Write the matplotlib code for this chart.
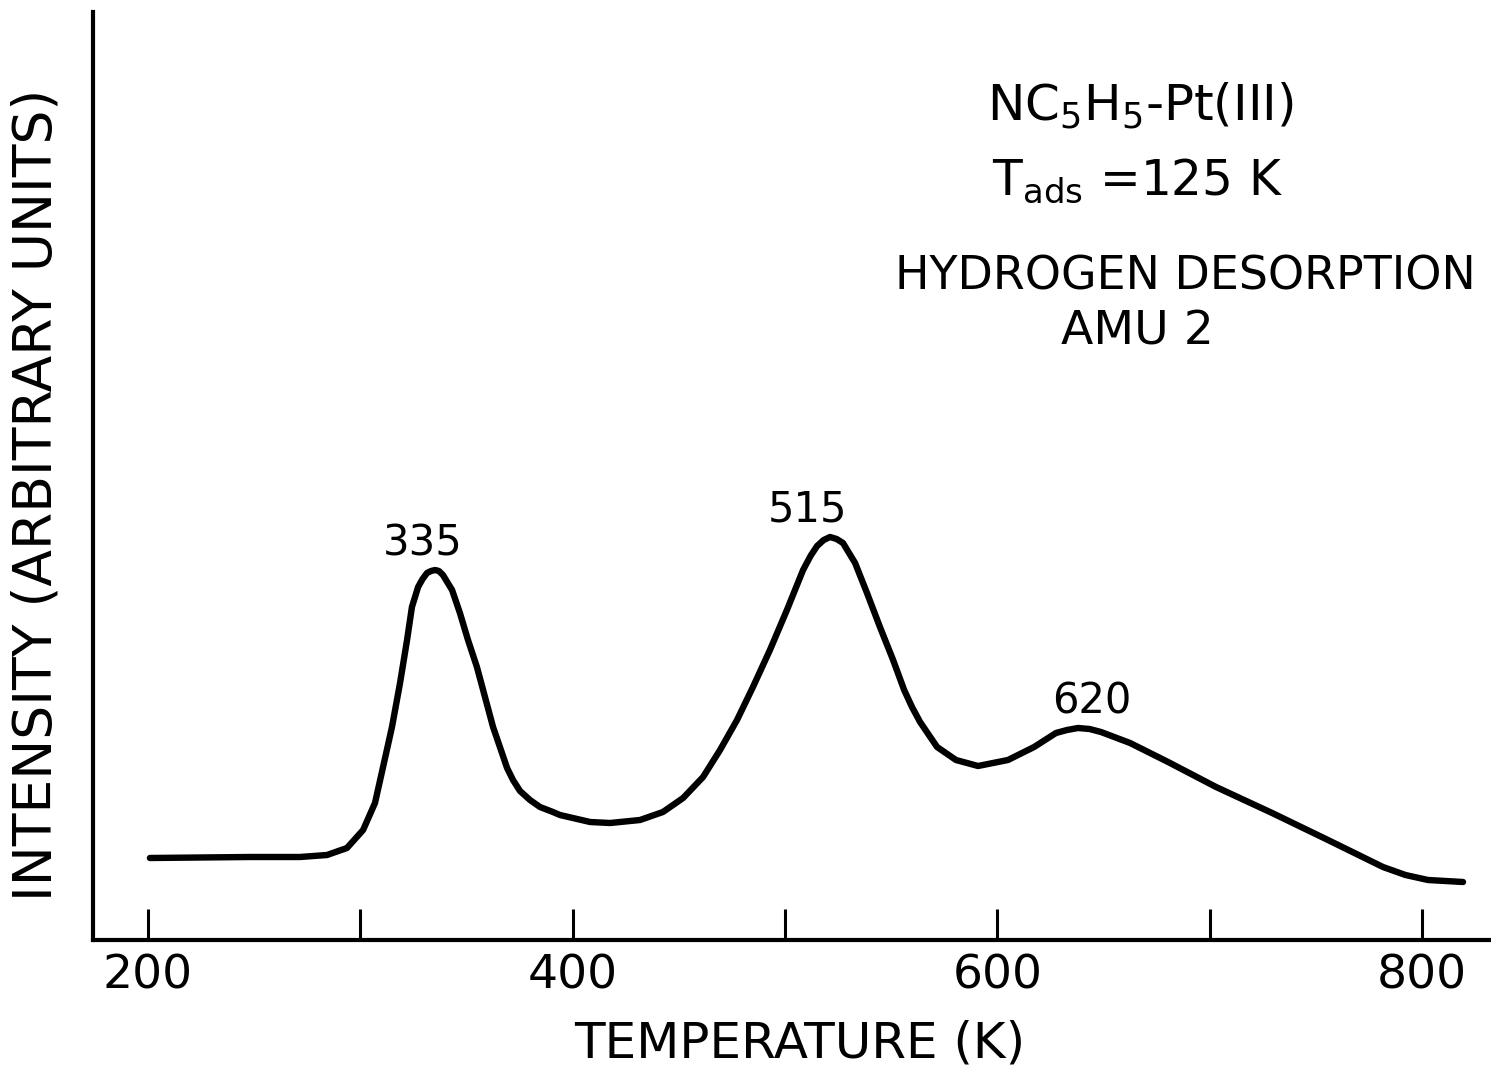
import matplotlib
matplotlib.use("Agg")
import matplotlib.pyplot as plt

# temperature (K) and intensity (arbitrary units)
temperatur = [200.9, 248.0, 271.6, 284.3, 293.7, 301.3, 306.9, 310.7, 314.9, 318.7,
              322.0, 324.3, 327.2, 329.3, 331.4, 333.3, 335.2, 337.0, 338.9, 343.2,
              346.9, 350.7, 354.9, 358.7, 362.5, 366.7, 369.1, 371.9, 375.2, 379.9,
              384.6, 390.7, 394.0, 408.2, 417.6, 431.7, 442.5, 452.0, 461.4, 469.4,
              477.4, 484.9, 492.9, 500.9, 508.5, 512.0, 515.1, 518.2, 521.2, 524.3,
              527.3, 533.0, 538.6, 544.7, 550.9, 556.1, 559.8, 563.6, 571.6, 580.5,
              590.9, 605.0, 617.3, 627.6, 632.8, 638.0, 643.4, 648.8, 662.5, 680.4,
              703.0, 729.4, 755.7, 781.6, 792.2, 802.8, 819.3]
intensitet = [82, 83, 83, 85, 92, 110, 137, 173, 213, 257,
              300, 333, 353, 361, 367, 369, 370, 369, 365, 350,
              327, 300, 273, 243, 213, 187, 172, 160, 149, 140,
              133, 128, 125, 118, 117, 120, 128, 142, 163, 190,
              220, 253, 290, 330, 370, 384, 394, 400, 403, 401,
              397, 377, 347, 313, 280, 250, 233, 218, 193, 180,
              174, 180, 193, 207, 210, 212, 211, 208, 197, 178,
              153, 127, 100, 73, 65, 60, 58]

# peak labels: text, x position, baseline height
topp_tekst = ["335", "515", "620"]
topp_x = [329.5, 510.8, 644.6]
topp_y = [385, 418, 227]

major_ticks = [200, 400, 600, 800]
minor_ticks = [300, 500, 700]

W, H = 1491, 1067
fig = plt.figure(figsize=(W / 100, H / 100), dpi=100)
ax = fig.add_axes([93 / W, 1 - 940 / H, (1490 - 93) / W, (940 - 12) / H])

ax.plot(temperatur, intensitet, color="black", linewidth=4.6,
        solid_joinstyle="round", solid_capstyle="round")

ax.set_xlim(174.1, 832.0)
ax.set_ylim(0, 928)

for side in ["top", "right"]:
    ax.spines[side].set_visible(False)
for side in ["left", "bottom"]:
    ax.spines[side].set_linewidth(3)

ax.set_yticks([])
ax.set_xticks(major_ticks)
ax.set_xticks(minor_ticks, minor=True)
ax.tick_params(axis="x", which="both", direction="in", length=22, width=2.2,
               labelsize=34, pad=10)
ax.tick_params(axis="x", which="minor", labelbottom=False)

ax.set_xlabel("TEMPERATURE (K)", fontsize=36, va="baseline")
ax.xaxis.set_label_coords((800 - 93) / 1397, -(1057 - 940) / 928)
ax.set_ylabel("INTENSITY (ARBITRARY UNITS)", fontsize=38.5)
ax.yaxis.set_label_coords(-0.022, (940 - 495) / 928)

for t, x, y in zip(topp_tekst, topp_x, topp_y):
    ax.text(x, y, t, fontsize=30, ha="center", va="baseline")

fig.text(1140 / W, 1 - 120 / H, r"NC$_5$H$_5$-Pt(III)", fontsize=36,
         ha="center", va="baseline")
fig.text(1138 / W, 1 - 195 / H, r"T$_{\mathregular{ads}}$ =125 K", fontsize=35,
         ha="center", va="baseline")
fig.text(1185 / W, 1 - 290 / H, "HYDROGEN DESORPTION", fontsize=33,
         ha="center", va="baseline")
fig.text(1137 / W, 1 - 345 / H, "AMU 2", fontsize=34,
         ha="center", va="baseline")

fig.savefig("out.png", dpi=100)
